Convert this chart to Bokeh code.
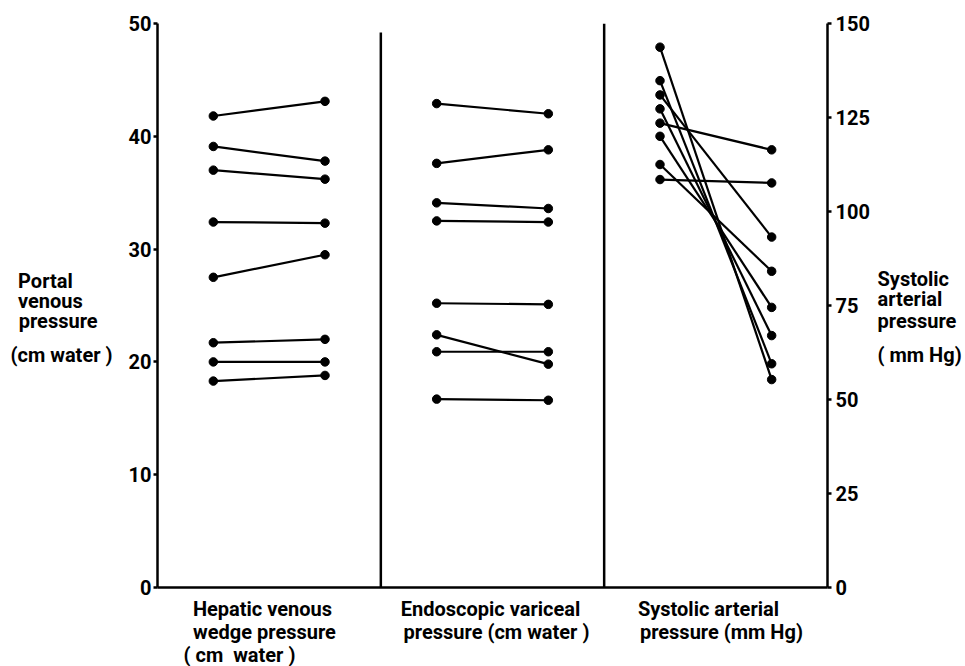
from bokeh.plotting import figure
from bokeh.models import Range1d, LinearAxis, FixedTicker, ColumnDataSource
from bokeh.embed import file_html
from bokeh.resources import INLINE

# ---- data ----
hvwp_before = [41.8, 39.1, 37.0, 32.4, 27.5, 21.7, 20.0, 18.3]
hvwp_after = [43.1, 37.8, 36.2, 32.3, 29.5, 22.0, 20.0, 18.8]
evp_before = [42.9, 37.6, 34.1, 32.5, 25.2, 22.4, 20.9, 16.7]
evp_after = [42.0, 38.8, 33.6, 32.4, 25.1, 19.8, 20.9, 16.6]
sap_before = [143.7, 134.8, 131.0, 127.3, 123.5, 120.0, 112.5, 108.5]
sap_after = [55.3, 59.5, 93.2, 67.0, 116.4, 74.5, 84.1, 107.6]
left_ticks = [0, 10, 20, 30, 40, 50]
right_ticks = [0, 25, 50, 75, 100, 125, 150]
caption_line1 = ["Hepatic venous", "Endoscopic variceal", "Systolic arterial"]
caption_line2 = ["wedge pressure", "pressure (cm water )", "pressure (mm Hg)"]
caption_line3 = ["( cm\u00a0 water )"]
left_title = ["Portal", "venous", "pressure", "(cm water )"]
right_title = ["Systolic", "arterial", "pressure", "( mm Hg)"]

FONT = "Roboto"
FS = "20px"
NBSP = "\u00a0"

W, H = 965, 666
FL, FR, FT, FB = 157, 827, 23, 587
FW, FH = FR - FL, FB - FT

p = figure(frame_width=FW, frame_height=FH,
           min_border_left=FL, min_border_right=W - FR,
           min_border_top=FT, min_border_bottom=H - FB,
           x_range=Range1d(0, 3), y_range=Range1d(0, 50),
           output_backend="svg", toolbar_location=None)
p.extra_y_ranges = {"sap": Range1d(0, 150)}
p.outline_line_color = None
p.xgrid.visible = False
p.ygrid.visible = False
p.background_fill_color = "white"
p.border_fill_color = "white"


def px_to_x(px):
    return round((px - FL) / FW * 3, 3)


def py_to_y(py):
    return round((FB - py) / FH * 50, 3)


def style_labels(ax):
    ax.major_label_text_font = FONT
    ax.major_label_text_font_style = "bold"
    ax.major_label_text_font_size = FS
    ax.major_label_text_color = "black"


def style_axis(ax, ticks):
    ax.ticker = FixedTicker(ticks=ticks)
    ax.axis_line_width = 2.5
    ax.axis_line_color = "black"
    ax.major_tick_line_width = 2.5
    ax.major_tick_line_color = "black"
    ax.major_tick_in = 0
    ax.major_tick_out = 4
    ax.minor_tick_line_color = None
    style_labels(ax)


def text_axis(positions, texts, standoff, y_range_name=None, line=False):
    kw = {} if y_range_name is None else {"y_range_name": y_range_name}
    ax = LinearAxis(**kw)
    ax.ticker = FixedTicker(ticks=positions)
    ax.major_label_overrides = {v: t for v, t in zip(positions, texts)}
    ax.axis_line_color = "black" if line else None
    ax.axis_line_width = 2.5
    ax.major_tick_line_color = None
    ax.major_tick_in = 0
    ax.major_tick_out = 0
    ax.minor_tick_line_color = None
    ax.major_label_standoff = standoff
    style_labels(ax)
    return ax


# numeric axes
ly = p.yaxis[0]
style_axis(ly, left_ticks)
ly.major_label_standoff = 2

ry = LinearAxis(y_range_name="sap")
style_axis(ry, right_ticks)
ry.major_label_standoff = 4
p.add_layout(ry, "right")

# side titles (one tick label per line, placed at the reference line positions)
left_pad = [8, 6, 3, 0]
left_title_txt = [t + NBSP * n for t, n in zip(left_title, left_pad)]
left_title_y = [py_to_y(v) for v in (280, 300, 321, 354)]
p.add_layout(text_axis(left_title_y, left_title_txt, 13), "left")

right_title_y = [py_to_y(v) for v in (279, 299, 320, 354)]
p.add_layout(text_axis(right_title_y, right_title, 5), "right")

# bottom: axis line + captions, one axis per caption line
p.xaxis[0].visible = False
x1 = [px_to_x(v) for v in (262, 490, 708)]
x2 = [px_to_x(v) for v in (264, 496, 721)]
x3 = [px_to_x(v) for v in (239,)]
p.add_layout(text_axis(x1, caption_line1, 9, line=True), "below")
p.add_layout(text_axis(x2, caption_line2, -4), "below")
p.add_layout(text_axis(x3, caption_line3, -4), "below")

# panel separators
p.segment(x0=[1, 2], y0=[0, 0], x1=[1, 2], y1=[49.2, 50],
          line_color="black", line_width=2.5)


def draw_pairs(before, after, panel, y_range_name="default"):
    n = len(before)
    src = ColumnDataSource(dict(x0=[panel + 0.25] * n, x1=[panel + 0.75] * n,
                                y0=before, y1=after))
    p.segment("x0", "y0", "x1", "y1", source=src, line_color="black",
              line_width=2.2, y_range_name=y_range_name)
    p.scatter("x0", "y0", source=src, size=8.5, color="black",
              y_range_name=y_range_name)
    p.scatter("x1", "y1", source=src, size=8.5, color="black",
              y_range_name=y_range_name)


draw_pairs(hvwp_before, hvwp_after, 0)
draw_pairs(evp_before, evp_after, 1)
draw_pairs(sap_before, sap_after, 2, "sap")

open("out.html", "w").write(file_html(p, INLINE))
